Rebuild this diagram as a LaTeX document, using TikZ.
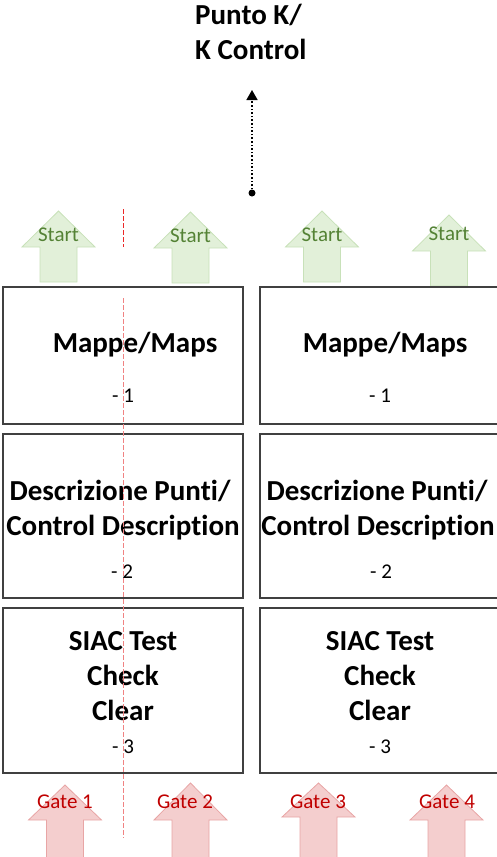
\documentclass[tikz,border=0pt]{standalone}
\usepackage{fontspec}
\setmainfont{Carlito}[Ligatures={NoCommon,NoContextual}]
\usetikzlibrary{arrows.meta}
\definecolor{boxline}{RGB}{64,64,64}
\definecolor{gfill}{RGB}{226,240,217}
\definecolor{gline}{RGB}{200,225,185}
\definecolor{gtext}{RGB}{84,130,53}
\definecolor{rfill}{RGB}{244,206,206}
\definecolor{rline}{RGB}{232,165,165}
\definecolor{rtext}{RGB}{192,0,0}
\definecolor{guidered}{RGB}{235,40,40}
\definecolor{guidepink}{RGB}{240,130,130}
\newcommand{\blockup}[6]{%
  \filldraw[#6] (#1,#2) -- (#1+36.5,#3) -- (#1+18.5,#3) -- (#1+18.5,#4)
    -- (#1-18.5,#4) -- (#1-18.5,#3) -- (#1-36.5,#3) -- cycle;}
\tikzset{
  x=1pt, y=-1pt,
  panel/.style={draw=boxline, line width=1.3pt, fill=white},
  big/.style={font=\bfseries\fontsize{29}{35}\selectfont, anchor=base, inner sep=0},
  small/.style={font=\fontsize{21}{24}\selectfont, anchor=base, inner sep=0},
  garrow/.style={fill=gfill, draw=gline, line width=0.8pt},
  rarrow/.style={fill=rfill, draw=rline, line width=0.8pt},
  starttxt/.style={small, text=gtext},
  gatetxt/.style={small, text=rtext},
  guide/.style={draw=guidered, dash pattern=on 5pt off 2pt, line width=1.2pt},
}
\begin{document}
\begin{tikzpicture}
\useasboundingbox (0,0) rectangle (497,857);
% title
\node[big, anchor=base west] (title1) at (195,24) {Punto K/};
\node[big, anchor=base west] (title2) at (195,59) {K Control};
% dotted connector
\node[circle, fill=black, inner sep=0, minimum size=7pt] (dot) at (252,193) {};
\coordinate (tip) at (252,90);
\draw[line width=1.6pt, dotted, -{Triangle[width=11pt,length=10pt]}] (dot) -- (tip);
% start arrows
\blockup{58.5}{211}{247}{282}{}{garrow}
\blockup{190.5}{212}{248}{283}{}{garrow}
\blockup{322}{211}{247}{282}{}{garrow}
\blockup{449}{215}{251}{286}{}{garrow}
\node[starttxt] (s1) at (58.5,241) {Start};
\node[starttxt] (s2) at (190.5,242) {Start};
\node[starttxt] (s3) at (322,241) {Start};
\node[starttxt] (s4) at (449,240) {Start};
% boxes left
\path[panel] (3,287) rectangle (243,424);
\path[panel] (3,434) rectangle (243,598);
\path[panel] (3,608) rectangle (243,773);
% boxes right
\path[panel] (260,287) rectangle (500,424);
\path[panel] (260,434) rectangle (500,598);
\path[panel] (260,608) rectangle (500,773);
% left texts
\node[big] (l1a) at (135,352) {Mappe/Maps};
\node[small] (l1b) at (123,402) {- 1};
\node[big] (l2a) at (120,500) {Descrizione Punti/};
\node[big] (l2b) at (123,535) {Control Description};
\node[small] (l2c) at (122,578) {- 2};
\node[big] (l3a) at (123,650) {SIAC Test};
\node[big] (l3b) at (123,685) {Check};
\node[big] (l3c) at (123,720) {Clear};
\node[small] (l3d) at (123,753) {- 3};
% right texts
\node[big] (r1a) at (385,352) {Mappe/Maps};
\node[small] (r1b) at (380,402) {- 1};
\node[big] (r2a) at (377,500) {Descrizione Punti/};
\node[big] (r2b) at (378,535) {Control Description};
\node[small] (r2c) at (381,578) {- 2};
\node[big] (r3a) at (380,650) {SIAC Test};
\node[big] (r3b) at (380,685) {Check};
\node[big] (r3c) at (380,720) {Clear};
\node[small] (r3d) at (380,753) {- 3};
% gate arrows
\blockup{65}{785}{820}{862}{}{rarrow}
\blockup{190.5}{783}{820}{862}{}{rarrow}
\blockup{318.5}{783}{817}{862}{}{rarrow}
\blockup{446.5}{785}{820}{862}{}{rarrow}
\node[gatetxt] (g1) at (65,808) {Gate 1};
\node[gatetxt] (g2) at (185,808) {Gate 2};
\node[gatetxt] (g3) at (318,808) {Gate 3};
\node[gatetxt] (g4) at (447,808) {Gate 4};
% red guide line
\coordinate (ga) at (123.5,209);
\coordinate (gb) at (123.5,247);
\coordinate (gc) at (123.5,298);
\coordinate (gd) at (123.5,838);
\draw[guide] (ga) -- (gb);
\draw[guide, draw=guidepink] (gc) -- (gd);
\end{tikzpicture}
\end{document}
